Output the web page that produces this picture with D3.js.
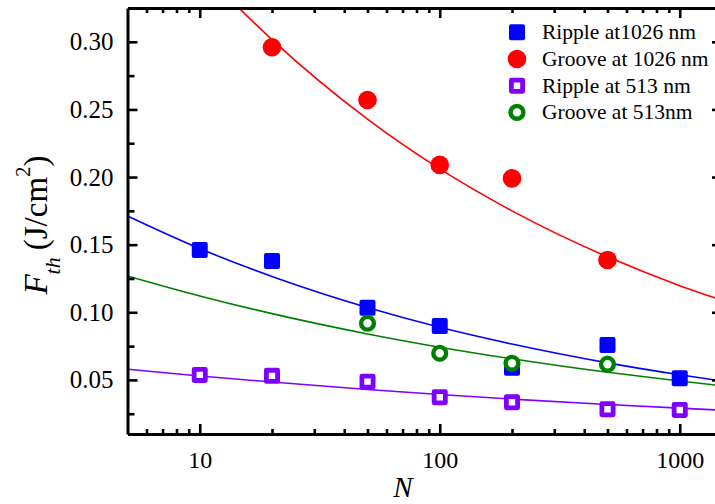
<!DOCTYPE html>
<html>
<head>
<meta charset="utf-8">
<script src="https://cdn.jsdelivr.net/npm/d3@7"></script>
<style>
  html, body { margin: 0; padding: 0; background: #fff; }
  svg { display: block; }
  text { font-family: "Liberation Serif", "Times New Roman", serif; fill: #000; }
</style>
</head>
<body>
<svg id="chart" width="715" height="504"></svg>
<script>
// ---- data ----
const pulses = [10, 20, 50, 100, 200, 500, 1000];
const rippleIR = [0.146, 0.138, 0.1034, 0.0899, 0.059, 0.0759, 0.0513];      // Ripple at1026 nm
const grooveIRN = [20, 50, 100, 200, 500];
const grooveIR = [0.296, 0.257, 0.209, 0.199, 0.1387];                       // Groove at 1026 nm
const rippleVis = [0.0537, 0.053, 0.0487, 0.0372, 0.0335, 0.0283, 0.0278];   // Ripple at 513 nm
const grooveVisN = [50, 100, 200, 500];
const grooveVis = [0.0919, 0.0697, 0.0623, 0.0616];                          // Groove at 513nm

// fitted curves at these N
const fitN = [5, 10, 20, 50, 100, 200, 500, 1000, 1500];
const rippleIRFit = [0.1712, 0.1471, 0.1265, 0.1035, 0.0889, 0.0765, 0.0626, 0.0538, 0.0492];
const grooveIRFit = [0.418, 0.355, 0.3016, 0.2428, 0.206, 0.175, 0.141, 0.1197, 0.1089];
const rippleVisFit = [0.0579, 0.0529, 0.0484, 0.0429, 0.0392, 0.0358, 0.0318, 0.0291, 0.0276];
const grooveVisFit = [0.1269, 0.1121, 0.0990, 0.0840, 0.0742, 0.0656, 0.0556, 0.0492, 0.0457];

const xMajor = [10, 100, 1000];
const xMinor = [6, 7, 8, 9, 20, 30, 40, 50, 60, 70, 80, 90, 200, 300, 400, 500, 600, 700, 800, 900];
const yMajor = [0.05, 0.10, 0.15, 0.20, 0.25, 0.30];
const yMinor = [0.025, 0.075, 0.125, 0.175, 0.225, 0.275];

const legendLabels = ["Ripple at1026 nm", "Groove at 1026 nm", "Ripple at 513 nm", "Groove at 513nm"];

// ---- layout ----
const svg = d3.select("#chart");
const x = d3.scaleLog().domain([5, 1500]).range([127.5, 722]);
const y = d3.scaleLinear().domain([0.01, 0.325]).range([434, 8]);
const X0 = x.range()[0], X1 = x.range()[1], Y0 = y.range()[0], Y1 = y.range()[1];

const C = { blue: "#0000ff", red: "#ff0000", purple: "#8000ff", green: "#008000" };

svg.append("defs").append("clipPath").attr("id", "plotclip")
  .append("rect").attr("x", X0).attr("y", Y1).attr("width", X1 - X0).attr("height", Y0 - Y1);

// ---- fit lines ----
const line = d3.line().x(d => x(d[0])).y(d => y(d[1])).curve(d3.curveMonotoneX);
const gLines = svg.append("g").attr("clip-path", "url(#plotclip)");
[[rippleIRFit, C.blue], [grooveIRFit, C.red], [rippleVisFit, C.purple], [grooveVisFit, C.green]]
  .forEach(([vals, col]) => {
    gLines.append("path")
      .attr("d", line(fitN.map((n, i) => [n, vals[i]])))
      .attr("fill", "none").attr("stroke", col).attr("stroke-width", 1.6);
  });

// ---- markers ----
const gPts = svg.append("g").attr("clip-path", "url(#plotclip)");
function filledSquare(g, cx, cy, col) {
  g.append("rect").attr("x", cx - 8).attr("y", cy - 8).attr("width", 16).attr("height", 16)
    .attr("rx", 2).attr("fill", col);
}
function filledCircle(g, cx, cy, col) {
  g.append("circle").attr("cx", cx).attr("cy", cy).attr("r", 9.3).attr("fill", col);
}
function openSquare(g, cx, cy, col) {
  g.append("rect").attr("x", cx - 5.6).attr("y", cy - 5.6).attr("width", 11.2).attr("height", 11.2)
    .attr("fill", "#fff").attr("stroke", col).attr("stroke-width", 4.8).attr("stroke-linejoin", "round");
}
function openCircle(g, cx, cy, col) {
  g.append("circle").attr("cx", cx).attr("cy", cy).attr("r", 6.4)
    .attr("fill", "#fff").attr("stroke", col).attr("stroke-width", 4.4);
}
pulses.forEach((n, i) => filledSquare(gPts, x(n), y(rippleIR[i]), C.blue));
grooveIRN.forEach((n, i) => filledCircle(gPts, x(n), y(grooveIR[i]), C.red));
pulses.forEach((n, i) => openSquare(gPts, x(n), y(rippleVis[i]), C.purple));
grooveVisN.forEach((n, i) => openCircle(gPts, x(n), y(grooveVis[i]), C.green));

// ---- axes ----
function styleAxis(g) {
  g.selectAll("path.domain").attr("stroke", "#000").attr("stroke-width", 3);
  g.selectAll(".tick line").attr("stroke", "#000").attr("stroke-width", 2.6);
}
// bottom
const gB = svg.append("g").attr("transform", `translate(0,${Y0})`);
gB.call(d3.axisBottom(x).tickValues(xMajor).tickSize(-10).tickSizeOuter(0).tickPadding(17)
  .tickFormat(d3.format("d")));
gB.selectAll(".tick text").attr("font-size", 24).attr("font-family", "Liberation Serif");
gB.append("g").call(d3.axisBottom(x).tickValues(xMinor).tickSize(-5).tickSizeOuter(0).tickFormat(""))
  .select("path.domain").remove();
styleAxis(gB);
// top
const gT = svg.append("g").attr("transform", `translate(0,${Y1})`);
gT.call(d3.axisTop(x).tickValues(xMajor).tickSize(-10).tickSizeOuter(0).tickFormat(""));
gT.append("g").call(d3.axisTop(x).tickValues(xMinor).tickSize(-5).tickSizeOuter(0).tickFormat(""))
  .select("path.domain").remove();
styleAxis(gT);
// left
const gL = svg.append("g").attr("transform", `translate(${X0},0)`);
gL.call(d3.axisLeft(y).tickValues(yMajor).tickSize(-10).tickSizeOuter(0).tickPadding(14)
  .tickFormat(d3.format(".2f")));
gL.selectAll(".tick text").attr("font-size", 25).attr("font-family", "Liberation Serif");
gL.append("g").call(d3.axisLeft(y).tickValues(yMinor).tickSize(-7).tickSizeOuter(0).tickFormat(""))
  .select("path.domain").remove();
styleAxis(gL);
// right
const gR = svg.append("g").attr("transform", `translate(${X1},0)`);
gR.call(d3.axisRight(y).tickValues(yMajor).tickSize(-10).tickSizeOuter(0).tickFormat(""));
gR.append("g").call(d3.axisRight(y).tickValues(yMinor).tickSize(-7).tickSizeOuter(0).tickFormat(""))
  .select("path.domain").remove();
styleAxis(gR);

// ---- axis titles ----
svg.append("text").attr("x", 403).attr("y", 497).attr("text-anchor", "middle")
  .attr("font-size", 29).attr("font-style", "italic").text("N");

const yt = svg.append("text").attr("transform", "translate(47,225) rotate(-90)")
  .attr("text-anchor", "middle").attr("font-size", 33);
yt.append("tspan").attr("font-style", "italic").text("F");
yt.append("tspan").attr("font-style", "italic").attr("font-size", 22).attr("dy", 13).text("th");
yt.append("tspan").attr("dy", -13).attr("dx", 7).text("(J/cm");
yt.append("tspan").attr("font-size", 21).attr("dy", -17).text("2");
yt.append("tspan").attr("dy", 17).text(")");

// ---- legend ----
const legX = 517, legY0 = 32.3, legDy = 26.7;
const gLeg = svg.append("g");
const markerFns = [
  (cx, cy) => filledSquare(gLeg, cx, cy, C.blue),
  (cx, cy) => filledCircle(gLeg, cx, cy, C.red),
  (cx, cy) => openSquare(gLeg, cx, cy, C.purple),
  (cx, cy) => openCircle(gLeg, cx, cy, C.green)
];
legendLabels.forEach((lab, i) => {
  const cy = legY0 + i * legDy;
  markerFns[i](legX, cy);
  gLeg.append("text").attr("x", 542).attr("y", cy + 7).attr("font-size", 21.5).text(lab);
});
</script>
</body>
</html>
